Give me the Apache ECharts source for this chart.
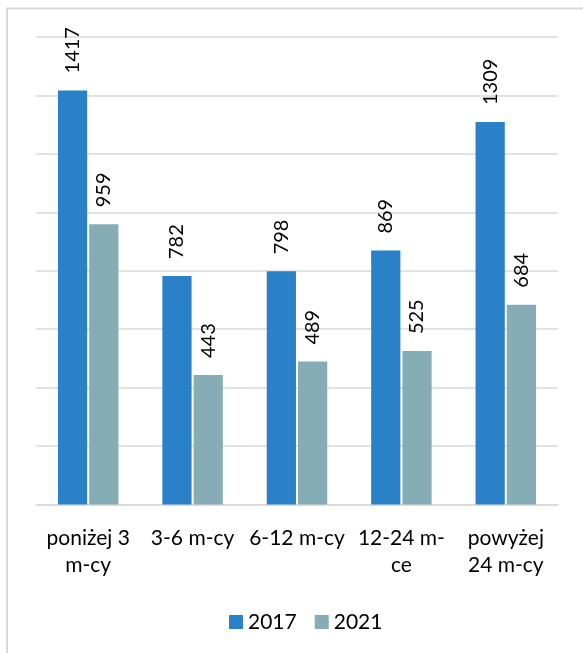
<!DOCTYPE html>
<html>
<head>
<meta charset="utf-8">
<script src="https://cdn.jsdelivr.net/npm/echarts@6/dist/echarts.min.js"></script>
<style>html,body{margin:0;padding:0;background:#fff}#c{width:583px;height:653px}</style>
</head>
<body>
<div id="c"></div>
<script>
const categories = ['poniżej 3\nm-cy', '3-6 m-cy', '6-12 m-cy', '12-24 m-\nce', 'powyżej\n24 m-cy'];
const seriesNames = ['2017', '2021'];
const values2017 = [1417, 782, 798, 869, 1309];
const values2021 = [959, 443, 489, 525, 684];

const chart = echarts.init(document.getElementById('c'));
const font = 'Lato';
const label = {
  show: true, position: 'top', rotate: 90, align: 'left', verticalAlign: 'middle',
  distance: 17, fontFamily: font, fontSize: 20, color: '#000'
};
chart.setOption({
  animation: false,
  textStyle: { fontFamily: font },
  graphic: [{
    type: 'rect', silent: true,
    shape: { x: 7, y: 8.5, width: 700, height: 800 },
    style: { fill: 'none', stroke: '#d9d9d9', lineWidth: 2 }
  }],
  grid: { left: 36, right: 25, top: 37, bottom: 148.5, containLabel: false },
  legend: {
    data: seriesNames, left: 224, top: 605, itemWidth: 14, itemHeight: 14, itemGap: 18,
    icon: 'rect', textStyle: { fontFamily: font, fontSize: 21, color: '#000', lineHeight: 24 }
  },
  xAxis: {
    type: 'category', data: categories,
    axisLine: { lineStyle: { color: '#d9d9d9', width: 1.5 } },
    axisTick: { show: false },
    axisLabel: { fontFamily: font, fontSize: 21, color: '#000', lineHeight: 27, margin: 20, interval: 0 }
  },
  yAxis: {
    type: 'value', min: 0, max: 1600, interval: 200,
    axisLabel: { show: false }, axisLine: { show: false }, axisTick: { show: false },
    splitLine: { lineStyle: { color: '#d9d9d9', width: 1.5 } }
  },
  series: [
    { name: seriesNames[0], type: 'bar', data: values2017, barWidth: '28%', barGap: '7%',
      itemStyle: { color: '#2a81c8' }, label: label },
    { name: seriesNames[1], type: 'bar', data: values2021, barWidth: '28%',
      itemStyle: { color: '#86acb6' }, label: label }
  ]
});
</script>
</body>
</html>
